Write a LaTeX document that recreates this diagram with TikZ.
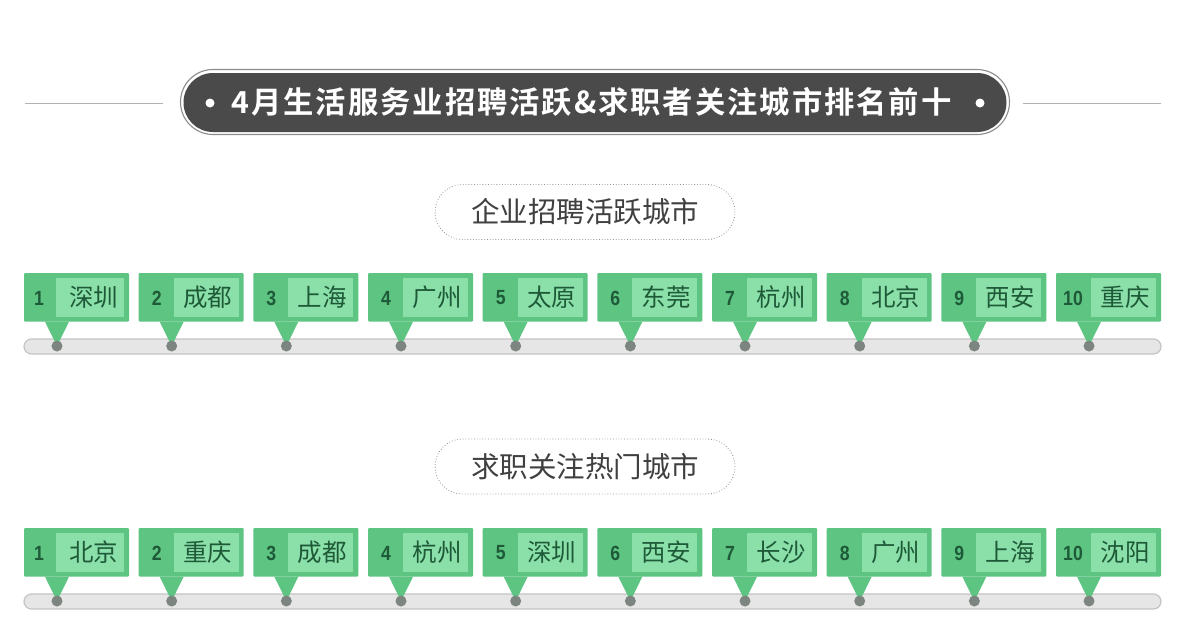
\documentclass[tikz,border=0pt]{standalone}
\usepackage{fontspec}
\setmainfont{Liberation Sans}
\newfontfamily\cjk{Noto Sans CJK SC}
\newfontfamily\cjkb{Noto Sans CJK SC}[BoldFont={Noto Sans CJK SC Bold},LetterSpace=6.5]
\newfontfamily\numf{Liberation Sans}[FakeStretch=0.86]
\definecolor{cardg}{HTML}{5DC482}
\definecolor{innerg}{HTML}{8BE0A9}
\definecolor{txtg}{HTML}{1E5A38}
\definecolor{darkp}{HTML}{4A4A4A}
\definecolor{barf}{HTML}{E6E6E6}
\definecolor{barl}{HTML}{C4C4C4}
\definecolor{dotc}{HTML}{7D8580}
\usetikzlibrary{shapes.misc}
\tikzset{
  x=1pt,y=-1pt,
  card/.style={fill=cardg,inner sep=0pt,minimum width=105pt,minimum height=48.5pt,rounded corners=1pt},
  innerbox/.style={fill=innerg,inner sep=0pt,minimum height=39pt,text=txtg,font=\cjk\fontsize{24.5}{24.5}\selectfont},
  rank/.style={text=txtg,font=\numf\bfseries\fontsize{20.5}{20.5}\selectfont,inner sep=0pt},
  track/.style={draw=barl,fill=barf,line width=1.2pt,rounded corners=7.5pt,inner sep=0pt,minimum height=15pt,minimum width=1137pt},
  pin/.style={fill=dotc,circle,inner sep=0pt,minimum size=11pt},
  headpill/.style={fill=darkp,rounded rectangle,inner sep=0pt,minimum width=823pt,minimum height=59pt},
  headring/.style={draw=black!45,line width=1.1pt,rounded rectangle,inner sep=0pt,minimum width=829pt,minimum height=65pt},
  subpill/.style={draw=gray!85,dotted,line width=.8pt,rounded rectangle,inner sep=0pt,minimum width=300pt,minimum height=55pt,text=black!75,font=\cjk\fontsize{28.5}{28.5}\selectfont},
  rule/.style={draw=black!30,line width=.8pt},
  bullet/.style={circle,fill=white,inner sep=0pt,minimum size=9pt}
}
\newcommand{\cityrow}[3]{%
  \node[track] (#1bar) at (592.5,#2+73.5) {};
  \foreach \n/\c [count=\i from 0] in {#3} {
    \pgfmathsetmacro{\cx}{76.5+114.67*\i}
    \pgfmathsetmacro{\tipx}{57+114.67*\i}
    \pgfmathsetmacro{\ix}{\i==0 ? 90 : \cx+15}
    \pgfmathsetmacro{\iw}{\i==0 ? 68 : 65}
    \pgfmathsetmacro{\sh}{\i==0 ? 7 : 3}
    \pgfmathsetmacro{\rx}{\i==0 ? \cx-37.5 : (\i==9 ? \cx-35.5 : \cx-34.5)}
    \node[card] (#1card\n) at (\cx,#2+24.25) {};
    \coordinate (#1tip\n) at (\tipx,#2+73);
    \fill[cardg] ([xshift=-12pt]#1tip\n |- #1card\n.south) -- ([xshift=12pt]#1tip\n |- #1card\n.south) -- (#1tip\n) -- cycle;
    \node[pin] (#1pin\n) at (#1tip\n) {};
    \node[innerbox,minimum width=\iw pt] (#1city\n) at (\ix,#2+24.5) {\hspace*{\sh pt}\c};
    \node[rank] (#1rank\n) at (\rx,#2+25) {\n};
  }
}
\begin{document}
\begin{tikzpicture}
\useasboundingbox (0,0) rectangle (1186,640);
\fill[white] (0,0) rectangle (1186,640);
\node[headring] (ring) at (595,102) {};
\node[headpill] (head) at (595,102.5) {};
\node[text=white,inner sep=0pt,font=\cjkb\bfseries\fontsize{30.3}{30.3}\selectfont] (title) at (591.5,102) {4月生活服务业招聘活跃\&求职者关注城市排名前十};
\node[bullet] (bl) at (210,103) {};
\node[bullet] (br) at (980,103) {};
\coordinate (ll) at (25,103);
\coordinate (rr) at (1161,103);
\draw[rule] (ll) -- (163,103);
\draw[rule] (1023,103) -- (rr);
\node[subpill] (sub1) at (585,212) {企业招聘活跃城市};
\node[subpill] (sub2) at (585,466.5) {求职关注热门城市};
\cityrow{a}{273}{1/深圳,2/成都,3/上海,4/广州,5/太原,6/东莞,7/杭州,8/北京,9/西安,10/重庆}
\cityrow{b}{528}{1/北京,2/重庆,3/成都,4/杭州,5/深圳,6/西安,7/长沙,8/广州,9/上海,10/沈阳}
\end{tikzpicture}
\end{document}
